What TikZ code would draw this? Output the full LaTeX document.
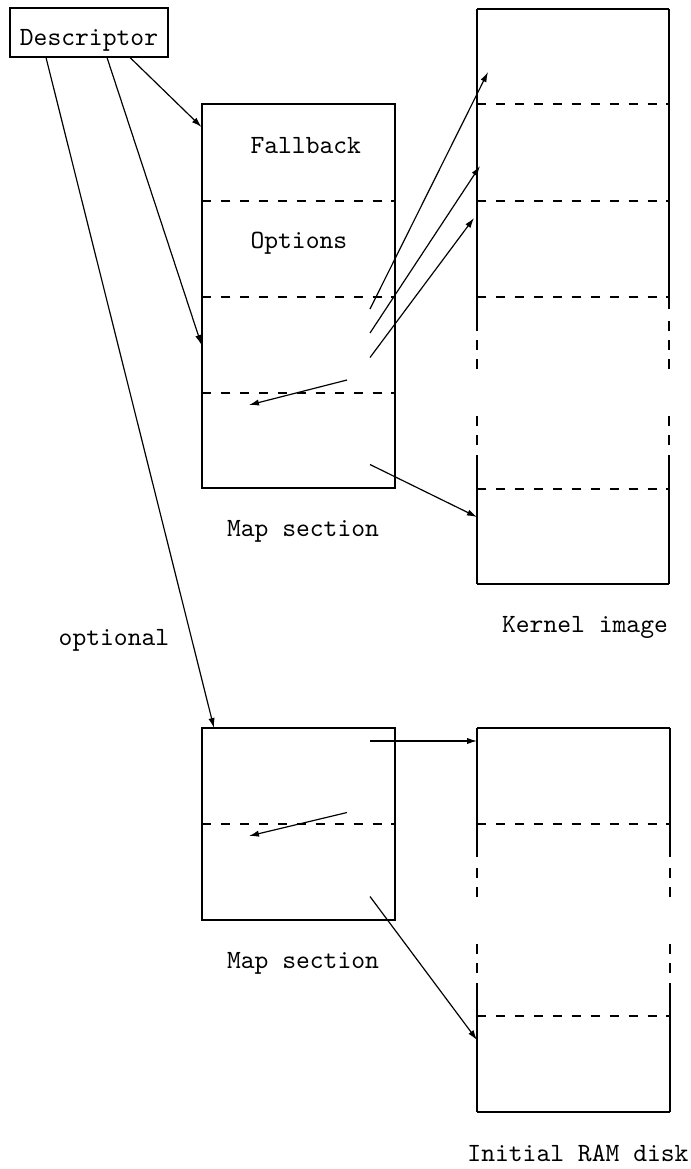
\documentclass[tikz,border=0pt]{standalone}
\usepackage{amsmath, amssymb}
\usepackage{tikz}
\usetikzlibrary{arrows.meta}

\tikzset{
    frame/.style={line width=0.8pt},
    sep/.style={line width=0.8pt, dash pattern=on 3.6pt off 3.6pt},
    link/.style={line width=0.45pt, -{Latex[length=3.8pt,width=2.4pt]}},
    lbl/.style={font=\ttfamily, inner sep=0pt, anchor=base},
}

\begin{document}
\begin{tikzpicture}[x=0.38pt, y=-0.38pt]
    \useasboundingbox (0,0) rectangle (691,1169);

    \node[draw, frame, font=\ttfamily, inner sep=0pt, anchor=base,
          minimum width=59.8pt, text height=14.25pt, text depth=4.5pt]
          (desc) at (89,45.5) {Descriptor};

    \draw[frame] (202,104) rectangle (395,488);
    \draw[sep] (202,201) -- (395,201);
    \draw[sep] (202,297) -- (395,297);
    \draw[sep] (202,393) -- (395,393);
    \node[lbl, anchor=base west] (fallback) at (250,153) {Fallback};
    \node[lbl, anchor=base west] (options) at (250,248.5) {Options};
    \node[lbl] (mapAlbl) at (303,536) {Map section};

    \draw[frame] (202,728) rectangle (395,920);
    \draw[sep] (202,824) -- (395,824);
    \node[lbl] (mapBlbl) at (303,968) {Map section};

    \draw[frame] (477,9) -- (669,9);
    \draw[frame] (477,584) -- (669,584);
    \draw[frame] (477,9) -- (477,331);
    \draw[frame] (669,9) -- (669,309);
    \draw[frame] (477,455) -- (477,584);
    \draw[frame] (669,455) -- (669,584);
    \foreach \y in {340,359,416,435}
        \draw[frame] (477,\y) -- ++(0,10);
    \foreach \y in {321,340,359,416,435}
        \draw[frame] (669,\y) -- ++(0,10);
    \foreach \y in {104,201,297,489}
        \draw[sep] (477,\y) -- (669,\y);
    \node[lbl] (kernlbl) at (585,632.5) {Kernel image};

    \draw[frame] (477,728) -- (670,728);
    \draw[frame] (477,1112) -- (670,1112);
    \draw[frame] (477,728) -- (477,857);
    \draw[frame] (670,728) -- (670,857);
    \draw[frame] (477,983) -- (477,1112);
    \draw[frame] (670,983) -- (670,1112);
    \foreach \y in {868,887,944,963} {
        \draw[frame] (477,\y) -- ++(0,10);
        \draw[frame] (670,\y) -- ++(0,10);
    }
    \draw[sep] (477,824) -- (670,824);
    \draw[sep] (477,1016) -- (670,1016);
    \node[lbl] (ramlbl) at (578,1161.5) {Initial RAM disk};

    \node[lbl] (optlbl) at (114,645) {optional};

    \coordinate (d1) at (130,57.5);
    \coordinate (d2) at (107,57.5);
    \coordinate (d3) at (46,57.5);
    \coordinate (mapAtop) at (201.5,127);
    \coordinate (mapAmid) at (201.5,345);
    \coordinate (mapBtop) at (214,728);

    \coordinate (a1) at (370,309);
    \coordinate (a2) at (370,333);
    \coordinate (a3) at (370,357.5);
    \coordinate (a4) at (347,380);
    \coordinate (a5) at (370,464.5);
    \coordinate (k1) at (488,72);
    \coordinate (k2) at (480,166);
    \coordinate (k3) at (474,218);
    \coordinate (mapAin) at (249,405);
    \coordinate (k4) at (477,517);

    \coordinate (b1) at (370,741);
    \coordinate (b2) at (347,812.5);
    \coordinate (b3) at (370,896.5);
    \coordinate (r1) at (477,741);
    \coordinate (mapBin) at (249,836);
    \coordinate (r2) at (477,1040);

    \draw[link] (d1) -- (mapAtop);
    \draw[link] (d2) -- (mapAmid);
    \draw[link] (d3) -- (mapBtop);

    \draw[link] (a1) -- (k1);
    \draw[link] (a2) -- (k2);
    \draw[link] (a3) -- (k3);
    \draw[link] (a4) -- (mapAin);
    \draw[link] (a5) -- (k4);

    \draw[link] (b1) -- (r1);
    \draw[link] (b2) -- (mapBin);
    \draw[link] (b3) -- (r2);
\end{tikzpicture}
\end{document}
